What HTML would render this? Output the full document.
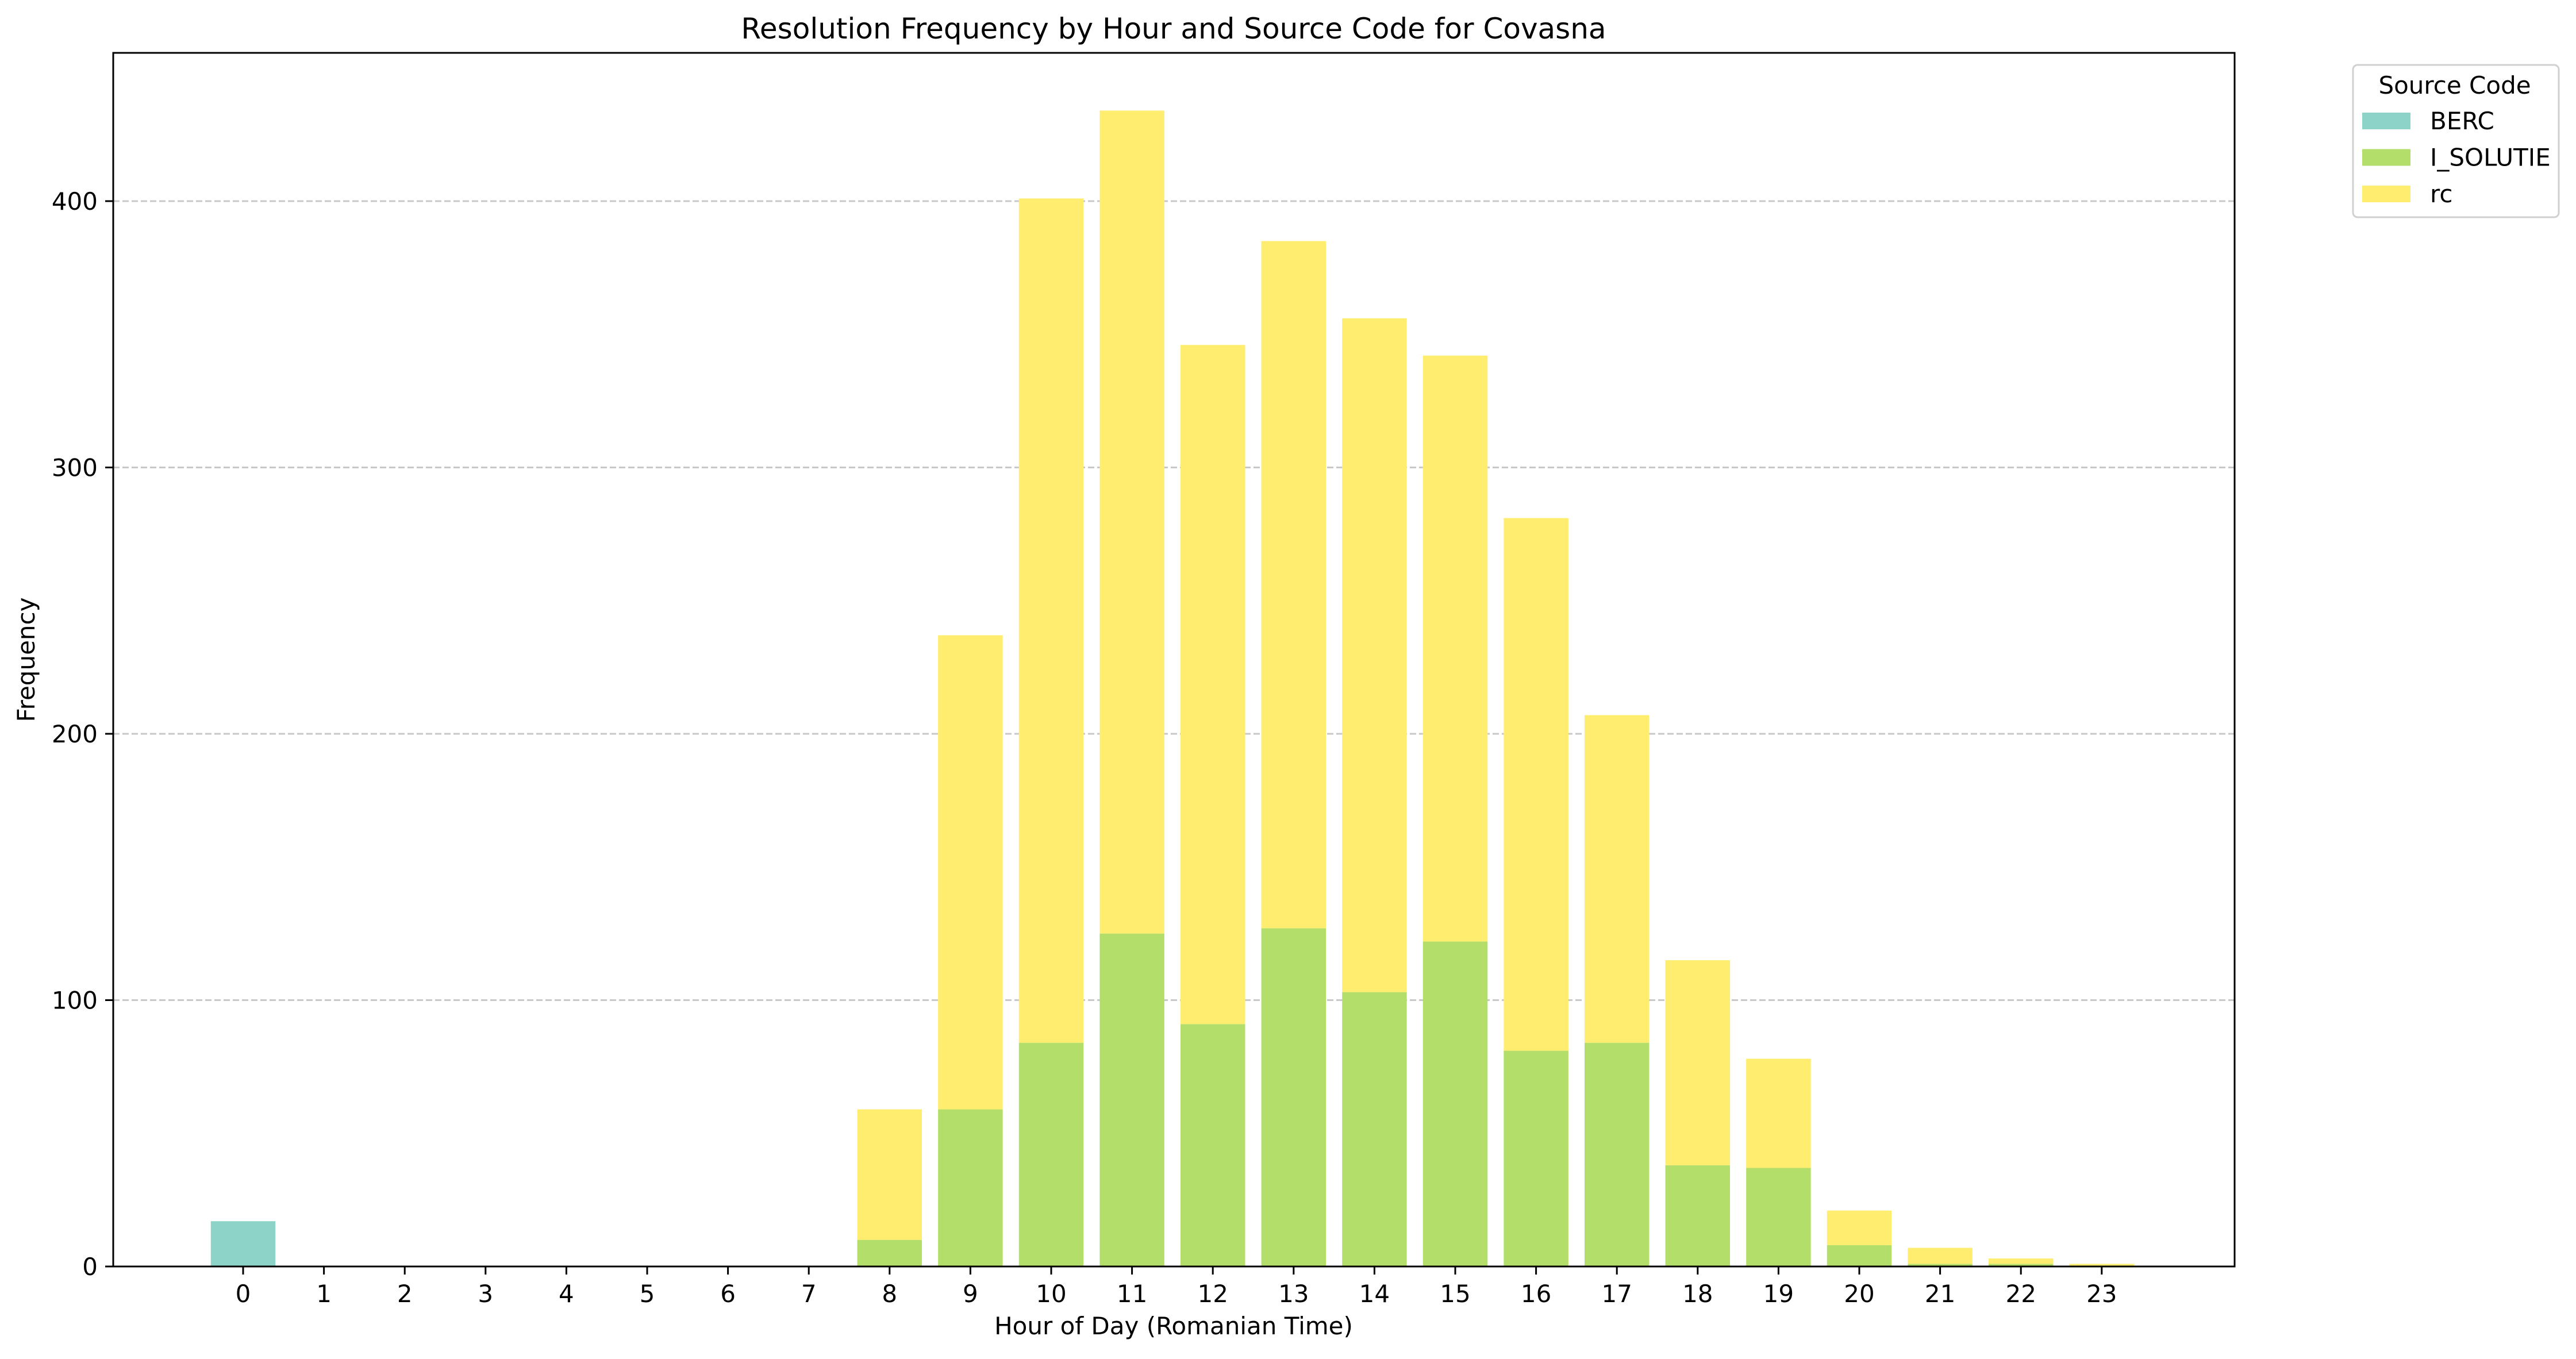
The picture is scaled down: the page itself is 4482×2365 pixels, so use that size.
<!DOCTYPE html>
<html><head><meta charset="utf-8"><style>
html,body{margin:0;padding:0;background:#fff}
svg{display:block}
text{font-family:"DejaVu Sans","Liberation Sans",sans-serif;fill:#000}
</style></head><body>
<svg id="chart" width="4482" height="2365" viewBox="0 0 4482 2365">
<rect width="4482" height="2365" fill="#fff"/>
<text x="2042" y="67" font-size="50" text-anchor="middle">Resolution Frequency by Hour and Source Code for Covasna</text>
<g id="grid"></g>
<g id="bars"></g>
<rect x="197" y="92" width="3691" height="2112" fill="none" stroke="#000" stroke-width="3"/>
<g id="xticks"></g>
<g id="yticks"></g>
<text x="2042" y="2322" font-size="42" text-anchor="middle">Hour of Day (Romanian Time)</text>
<text transform="translate(60,1148) rotate(-90)" font-size="42" text-anchor="middle">Frequency</text>
<g>
<rect x="4094" y="113" width="358" height="265" rx="8" fill="#fff" stroke="#d0d0d0" stroke-width="3"/>
<text x="4271" y="163" font-size="42" text-anchor="middle">Source Code</text>
<g id="legend-items"></g>
</g>
</svg>
<script>
const hours = ["0","1","2","3","4","5","6","7","8","9","10","11","12","13","14","15","16","17","18","19","20","21","22","23"];
const seriesNames = ["BERC","I_SOLUTIE","rc"];
const seriesColors = ["#8dd3c7","#b3de69","#ffed6f"];
const bercValues = [17,0,0,0,0,0,0,0,0,0,0,0,0,0,0,0,0,0,0,0,0,0,0,0];
const isolutieValues = [0,0,0,0,0,0,0,0,10,59,84,125,91,127,103,122,81,84,38,37,8,1,1,0];
const rcValues = [0,0,0,0,0,0,0,0,49,178,317,309,255,258,253,220,200,123,77,41,13,6,2,1];
const yTicks = [0,100,200,300,400];

const NS="http://www.w3.org/2000/svg";
const X0=423, XSTEP=140.6, BARW=112.5, Y0=2204, YS=4.635;
const xPos=i=>X0+i*XSTEP;
const yPos=v=>Y0-v*YS;
function mk(tag,attrs,parent){const e=document.createElementNS(NS,tag);for(const k in attrs)e.setAttribute(k,attrs[k]);parent.appendChild(e);return e;}
const grid=document.getElementById('grid'),bars=document.getElementById('bars'),xt=document.getElementById('xticks'),yt=document.getElementById('yticks'),lg=document.getElementById('legend-items');
yTicks.forEach(v=>{
  if(v>0){const g=mk('line',{x1:197,x2:3888,y1:yPos(v),y2:yPos(v),stroke:'#c8c8c8','stroke-width':3,'stroke-dasharray':'11 5'},grid);
  
  }
  const t=mk('line',{x1:183,x2:197,y1:yPos(v),y2:yPos(v),stroke:'#000','stroke-width':3},yt);
  
  
  const l=mk('text',{x:170,y:yPos(v)+15,'font-size':42,'text-anchor':'end'},yt);l.textContent=v;
  
  
});
const all=[bercValues,isolutieValues,rcValues];
hours.forEach((h,i)=>{
  let base=0;
  all.forEach((vals,s)=>{
    const v=vals[i];
    if(v>0){const r=mk('rect',{x:xPos(i)-BARW/2,y:yPos(base+v),width:BARW,height:v*YS,fill:seriesColors[s]},bars);
    
    }
    base+=v;
  });
  const t=mk('line',{x1:xPos(i),x2:xPos(i),y1:2204,y2:2218,stroke:'#000','stroke-width':3},xt);
  
  
  const l=mk('text',{x:xPos(i),y:2266,'font-size':42,'text-anchor':'middle'},xt);l.textContent=h;
  
  
});
seriesNames.forEach((n,s)=>{
  const y=196+s*63.5;
  const r=mk('rect',{x:4110,y:y,width:84,height:29,fill:seriesColors[s]},lg);
  
  
  const t=mk('text',{x:4228,y:y+29,'font-size':42},lg);t.textContent=n;
  
  
});
</script>
</body></html>
